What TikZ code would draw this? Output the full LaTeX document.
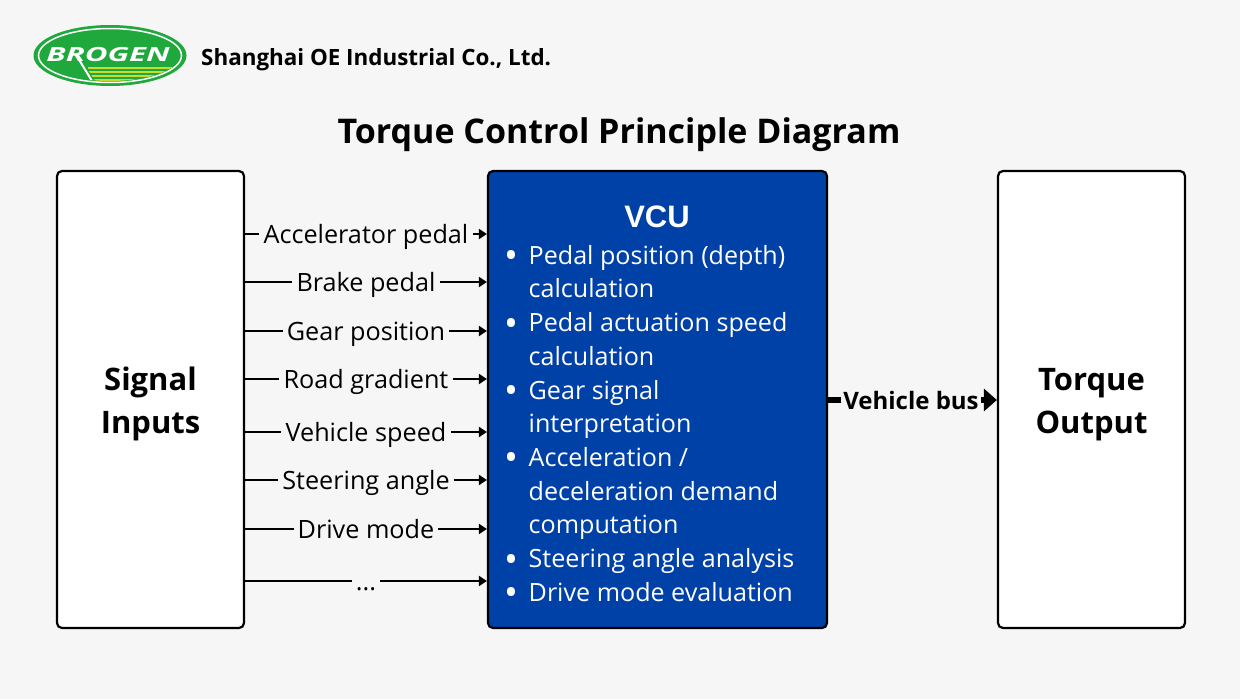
\documentclass[tikz,border=0pt]{standalone}
\usepackage{fontspec}
\setmainfont{Open Sans}
\newfontfamily\vcufont{Liberation Sans}
\usetikzlibrary{arrows.meta}
\definecolor{pagegray}{HTML}{F6F6F6}
\definecolor{vcublue}{HTML}{0041A8}
\definecolor{logogreen}{HTML}{1FA83C}
\definecolor{logoyellow}{HTML}{C8DC2E}
\newcommand{\bul}{\llap{\raisebox{-4.5pt}{\fontsize{37}{37}\selectfont\textbullet}\hspace{10pt}}}
\begin{document}
\begin{tikzpicture}[x=1pt, y=-1pt,
    main/.style = {draw=black, line width=2.2pt, rounded corners=5pt, fill=white, minimum height=457pt, inner sep=0pt, align=center},
    sig/.style = {font=\fontsize{25.2}{28}\selectfont, inner xsep=4pt, inner ysep=0pt, text height=21pt, text depth=2pt},
    line/.style = {line width=2pt},
    arrow/.style = {line width=2pt, -{Triangle[length=8pt, width=10pt]}}]
  \fill[pagegray] (0,0) rectangle (1240,699);
  \useasboundingbox (0,0) rectangle (1240,699);
  % logo
  \fill[logogreen] (110,55.5) ellipse [x radius=76.5, y radius=30.5];
  \draw[white, line width=1.5pt] (110,55.5) ellipse [x radius=71.5, y radius=27];
  \begin{scope}
    \clip (110,55.5) ellipse [x radius=70, y radius=25.5];
    \foreach \ya in {67,71,75,79} {
      \fill[logoyellow] (88,\ya) rectangle (178,\ya+2.2);
    }
    \fill[logogreen] (70,64) -- (84,64) -- (97,84) -- (70,84) -- cycle;
    \draw[white, line width=2pt] (78,58) -- (92,81);
  \end{scope}
  \node[white, inner sep=0pt, font=\fontsize{19.5}{20}\selectfont\bfseries\itshape] (brand) at (108,55) {\scalebox{1.6}[1]{BROGEN}};
  \node[anchor=west, inner sep=0pt, font=\fontsize{22.4}{26}\selectfont\bfseries] (company) at (201,60) {Shanghai OE Industrial Co., Ltd.};
  \node[inner sep=0pt, font=\fontsize{34}{40}\selectfont\bfseries] (title) at (619,135) {Torque Control Principle Diagram};
  % boxes
  \node[main, minimum width=187pt, font=\fontsize{31}{43.5}\selectfont\bfseries] (inputs) at (150.5,399.5) {\rule{0pt}{32pt}Signal\\Inputs};
  \node[main, minimum width=339pt, fill=vcublue] (vcu) at (657.5,399.5) {};
  \node[main, minimum width=187pt, font=\fontsize{31}{43.5}\selectfont\bfseries] (output) at (1091.5,399.5) {\rule{0pt}{32pt}Torque\\Output};
  % vcu text
  \node[white, inner sep=0pt, font=\vcufont\fontsize{31}{36}\selectfont\bfseries] (vcuname) at (657,217) {VCU};
  \node[white, anchor=north west, inner sep=0pt, align=left, font=\fontsize{25.1}{33.7}\selectfont] (vcutext) at (528.5,245) {\bul Pedal position (depth)\\calculation\\\bul Pedal actuation speed\\calculation\\\bul Gear signal\\interpretation\\\bul Acceleration /\\deceleration demand\\computation\\\bul Steering angle analysis\\\bul Drive mode evaluation};
  % signals
  \node[sig] (l1) at (366,234) {Accelerator pedal};
  \node[sig] (l2) at (366,282) {Brake pedal};
  \node[sig] (l3) at (366,331) {Gear position};
  \node[sig] (l4) at (366,379) {Road gradient};
  \node[sig] (l5) at (366,432) {Vehicle speed};
  \node[sig] (l6) at (366,480) {Steering angle};
  \node[sig] (l7) at (366,529) {Drive mode};
  \node[sig] (l8) at (366,581) {...};
  \draw[line] (inputs.east |- l1) -- (l1);
  \draw[arrow] (l1) -- (vcu.west |- l1);
  \draw[line] (inputs.east |- l2) -- (l2);
  \draw[arrow] (l2) -- (vcu.west |- l2);
  \draw[line] (inputs.east |- l3) -- (l3);
  \draw[arrow] (l3) -- (vcu.west |- l3);
  \draw[line] (inputs.east |- l4) -- (l4);
  \draw[arrow] (l4) -- (vcu.west |- l4);
  \draw[line] (inputs.east |- l5) -- (l5);
  \draw[arrow] (l5) -- (vcu.west |- l5);
  \draw[line] (inputs.east |- l6) -- (l6);
  \draw[arrow] (l6) -- (vcu.west |- l6);
  \draw[line] (inputs.east |- l7) -- (l7);
  \draw[arrow] (l7) -- (vcu.west |- l7);
  \draw[line] (inputs.east |- l8) -- (l8);
  \draw[arrow] (l8) -- (vcu.west |- l8);
  % bus
  \node[inner xsep=2pt, inner ysep=0pt, font=\fontsize{24}{28}\selectfont\bfseries] (bus) at (911,400) {Vehicle bus};
  \draw[line width=6pt] (vcu.east |- bus) -- (bus);
  \draw[line width=6pt, -{Triangle[length=13pt, width=22pt]}] (bus) -- (output.west |- bus);
\end{tikzpicture}
\end{document}
